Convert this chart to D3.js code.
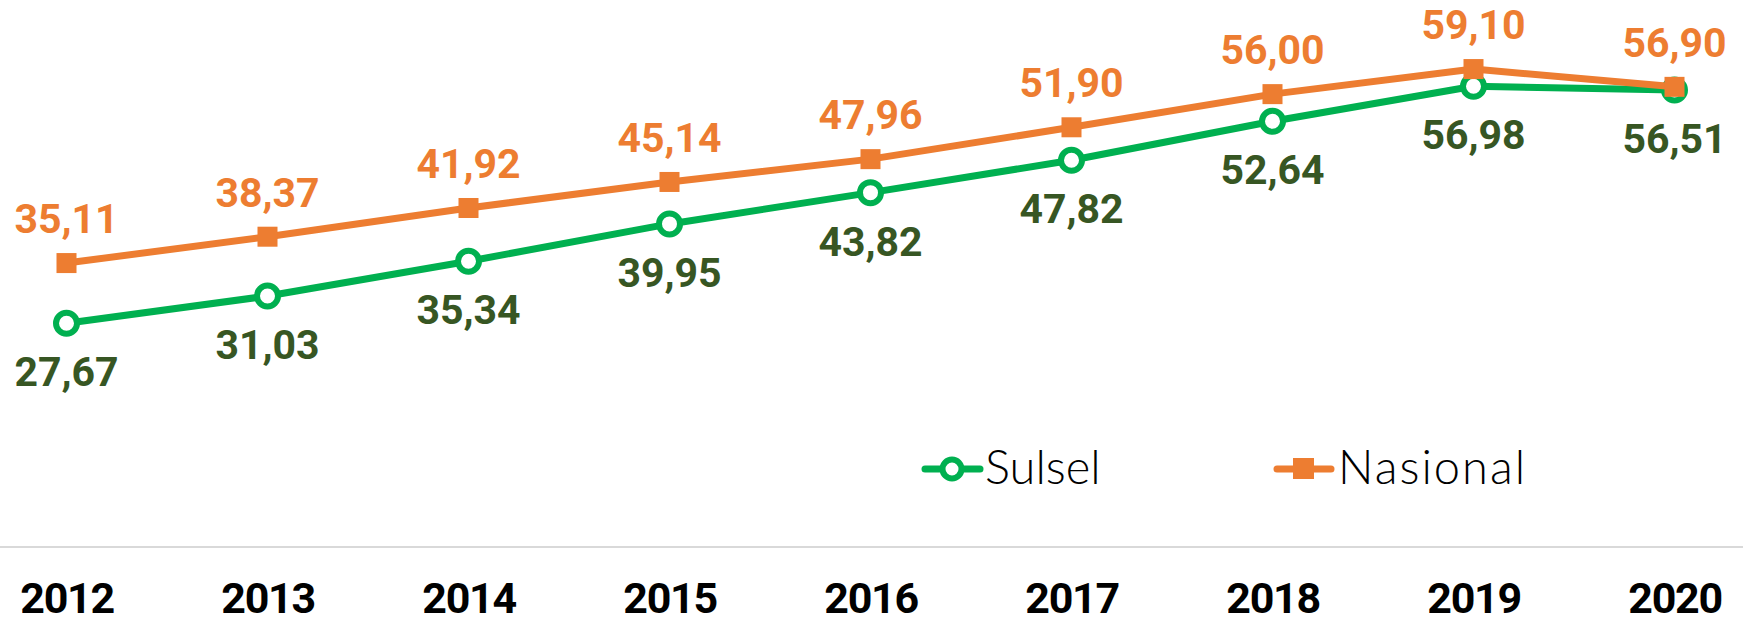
<!DOCTYPE html>
<html><head><meta charset="utf-8">
<script src="https://cdn.jsdelivr.net/npm/d3@7"></script>
<style>html,body{margin:0;padding:0;background:#fff;overflow:hidden}</style>
</head><body>
<svg id="chart" width="1743" height="623"></svg>
<script>
const years = ["2012","2013","2014","2015","2016","2017","2018","2019","2020"];
const sulsel = [27.67,31.03,35.34,39.95,43.82,47.82,52.64,56.98,56.51];
const nasional = [35.11,38.37,41.92,45.14,47.96,51.90,56.00,59.10,56.90];
const seriesNames = ["Sulsel","Nasional"];

const W = 1743, H = 623;
const svg = d3.select("#chart");
const x = d3.scalePoint().domain(years).range([66.5, 1674.5]);
const y = d3.scaleLinear().domain([0, 70]).range([547, 547 - 70 * 8.087]);
const fmt = v => d3.format(".2f")(v).replace(".", ",");

const orange = "#ED7D31", green = "#00B050", dgreen = "#375623";

// axis
const xAxis = d3.axisBottom(x).tickSize(0).tickPadding(0);
const ax = svg.append("g").attr("transform", `translate(0,${y(0)})`).call(xAxis);
ax.select(".domain").remove();
svg.append("line").attr("x1", 0).attr("x2", W).attr("y1", y(0)).attr("y2", y(0))
  .attr("stroke", "#d9d9d9").attr("stroke-width", 2);
ax.selectAll(".tick text").attr("y", 66).attr("dy", null)
  .attr("font-family", "Roboto, sans-serif").attr("font-weight", 700)
  .attr("font-size", 43).attr("letter-spacing", -1.3).attr("fill", "#000");

const line = d3.line().x((d,i) => x(years[i])).y(d => y(d));

// Sulsel
svg.append("path").datum(sulsel).attr("d", line).attr("fill", "none")
  .attr("stroke", green).attr("stroke-width", 7).attr("stroke-linejoin", "round");
svg.selectAll(".cs").data(sulsel).join("circle").attr("class", "cs")
  .attr("cx", (d,i) => x(years[i])).attr("cy", d => y(d)).attr("r", 10.5)
  .attr("fill", "#fff").attr("stroke", green).attr("stroke-width", 6);

// Nasional
svg.append("path").datum(nasional).attr("d", line).attr("fill", "none")
  .attr("stroke", orange).attr("stroke-width", 7).attr("stroke-linejoin", "round");
svg.selectAll(".sq").data(nasional).join("rect").attr("class", "sq")
  .attr("x", (d,i) => x(years[i]) - 10).attr("y", d => y(d) - 10)
  .attr("width", 20).attr("height", 20).attr("fill", orange);

// labels
svg.selectAll(".ls").data(sulsel).join("text").attr("class", "ls")
  .attr("x", (d,i) => x(years[i])).attr("y", d => y(d) + 63)
  .attr("text-anchor", "middle").attr("font-family", "Roboto, sans-serif")
  .attr("font-weight", 700).attr("font-size", 41).attr("fill", dgreen).text(fmt);
svg.selectAll(".ln").data(nasional).join("text").attr("class", "ln")
  .attr("x", (d,i) => x(years[i])).attr("y", d => y(d) - 30)
  .attr("text-anchor", "middle").attr("font-family", "Roboto, sans-serif")
  .attr("font-weight", 700).attr("font-size", 41).attr("fill", orange).text(fmt);

// legend
const lg = svg.append("g");
lg.append("line").attr("x1", 925).attr("x2", 980).attr("y1", 469).attr("y2", 469)
  .attr("stroke", green).attr("stroke-width", 7).attr("stroke-linecap", "round");
lg.append("circle").attr("cx", 952).attr("cy", 469).attr("r", 9.5)
  .attr("fill", "#fff").attr("stroke", green).attr("stroke-width", 6);
lg.append("text").attr("x", 985).attr("y", 484).attr("font-family", "Lato, sans-serif")
  .attr("font-weight", 300).attr("font-size", 47).attr("fill", "#000").text(seriesNames[0]);
lg.append("line").attr("x1", 1277).attr("x2", 1331).attr("y1", 469).attr("y2", 469)
  .attr("stroke", orange).attr("stroke-width", 7).attr("stroke-linecap", "round");
lg.append("rect").attr("x", 1293).attr("y", 458).attr("width", 21).attr("height", 21).attr("fill", orange);
lg.append("text").attr("x", 1338).attr("y", 484).attr("font-family", "Lato, sans-serif")
  .attr("font-weight", 300).attr("font-size", 47).attr("letter-spacing", 2).attr("fill", "#000").text(seriesNames[1]);
</script>
</body></html>
